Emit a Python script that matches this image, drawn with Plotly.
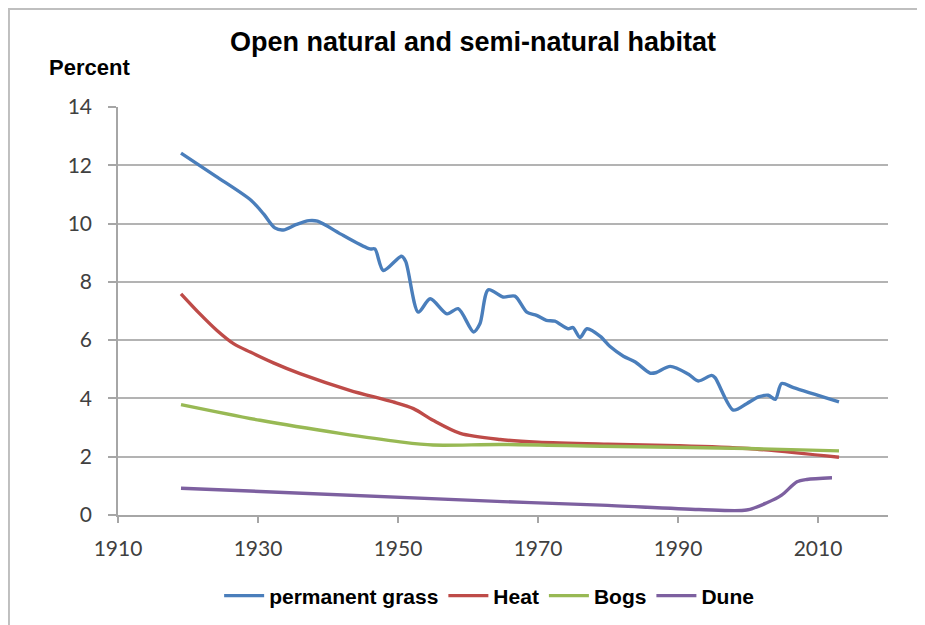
import plotly.graph_objects as go

# values (year, percent)
grass_years = [1919.0, 1924.0, 1929.0, 1930.8, 1932.4, 1933.6, 1935.5, 1937.3, 1938.5, 1942.2,
               1946.0, 1946.7, 1947.9, 1950.5, 1951.1, 1952.9, 1954.6, 1957.0, 1958.6, 1960.8,
               1961.7, 1962.9, 1965.0, 1966.7, 1968.4, 1969.8, 1971.2, 1972.4, 1974.3, 1975.0,
               1976.0, 1977.0, 1978.9, 1980.3, 1982.2, 1983.9, 1986.0, 1986.8, 1988.9, 1991.5,
               1992.9, 1994.8, 1995.3, 1997.9, 1999.8, 2001.5, 2002.9, 2003.9, 2004.8, 2006.5,
               2013.0]
grass = [12.42, 11.62, 10.80, 10.33, 9.85, 9.78, 9.97, 10.10, 10.08, 9.59,
         9.13, 9.13, 8.39, 8.88, 8.70, 6.96, 7.42, 6.90, 7.08, 6.28,
         6.56, 7.73, 7.48, 7.51, 6.96, 6.85, 6.68, 6.65, 6.39, 6.43,
         6.09, 6.39, 6.13, 5.78, 5.45, 5.25, 4.87, 4.88, 5.10, 4.83,
         4.60, 4.79, 4.71, 3.60, 3.82, 4.05, 4.11, 3.97, 4.51, 4.37,
         3.88]

heat_years = [1919.0, 1921.7, 1924.1, 1926.5, 1928.9, 1932.2, 1936.0, 1943.1, 1949.3, 1952.2,
              1955.0, 1958.9, 1964.6, 1970.0, 1980.0, 1990.0, 2000.0, 2013.0]
heat = [7.59, 6.90, 6.34, 5.88, 5.59, 5.22, 4.85, 4.28, 3.88, 3.65,
        3.25, 2.80, 2.59, 2.50, 2.43, 2.38, 2.28, 1.98]

bogs_years = [1919.0, 1930.3, 1941.7, 1950.3, 1955.0, 1964.6, 1979.0, 2000.0, 2013.0]
bogs = [3.79, 3.25, 2.80, 2.51, 2.40, 2.42, 2.36, 2.28, 2.20]

dune_years = [1919.0, 1965.0, 1979.0, 1993.0, 1999.8, 2002.7, 2004.8, 2007.0, 2008.4, 2012.0]
dune = [0.92, 0.46, 0.34, 0.19, 0.17, 0.42, 0.68, 1.14, 1.22, 1.28]

x_ticks = [1910, 1930, 1950, 1970, 1990, 2010]
y_ticks = [0, 2, 4, 6, 8, 10, 12, 14]

series = [
    ("permanent grass", grass_years, grass, "#4A7EBB"),
    ("Heat", heat_years, heat, "#BE4B48"),
    ("Bogs", bogs_years, bogs, "#98B954"),
    ("Dune", dune_years, dune, "#7D60A0"),
]

fig = go.Figure()
for name, xs, ys, col in series:
    fig.add_trace(go.Scatter(x=xs, y=ys, name=name, mode="lines",
                             line=dict(color=col, width=3.4, shape="spline", smoothing=0.8)))

# the page adds an 8px body margin, so the margins are set 8px smaller
fig.update_layout(
    width=925, height=625,
    margin=dict(l=110, r=45, t=99, b=118),
    paper_bgcolor="white", plot_bgcolor="white",
    font=dict(family="Liberation Sans, Arial", color="black"),
    title=dict(text="<b>Open natural and semi-natural habitat</b>",
               x=0.5027, y=0.9456, xanchor="center", yanchor="middle",
               font=dict(size=27, family="Liberation Sans, Arial")),
    showlegend=True,
    legend=dict(orientation="h", x=0.482, xanchor="center", y=-0.1985, yanchor="middle",
                font=dict(size=21, family="Liberation Sans, Arial", weight="bold"),
                itemwidth=40, traceorder="normal"),
)

tick_font = dict(family="Lato, Open Sans", size=21, color="#404040")
fig.update_xaxes(range=[1910, 2020], tickvals=x_ticks, showgrid=False, zeroline=False,
                 showline=True, linecolor="#A6A6A6", linewidth=1.5,
                 ticks="outside", ticklen=6, tickcolor="#A6A6A6", tickwidth=1.5,
                 tickfont=tick_font, ticklabelstandoff=8)
fig.update_yaxes(range=[0, 14], tickvals=y_ticks, showgrid=True, gridcolor="#B3B3B3",
                 gridwidth=1.6, zeroline=False,
                 showline=True, linecolor="#A6A6A6", linewidth=1.5,
                 ticks="outside", ticklen=8, tickcolor="#A6A6A6", tickwidth=1.5,
                 tickfont=tick_font, ticklabelstandoff=12)

fig.add_annotation(text="<b>Percent</b>", xref="paper", yref="paper",
                   x=-0.0922, y=1.0956, xanchor="left", yanchor="middle", showarrow=False,
                   font=dict(size=22, family="Liberation Sans, Arial"))

# chart frame (left and top edges visible in the reference)
fig.add_shape(type="rect", xref="paper", yref="paper",
              x0=-0.1416, x1=1.3, y0=-0.6, y1=1.240,
              line=dict(color="#BFBFBF", width=2), layer="below")

fig.write_html("out.html")
